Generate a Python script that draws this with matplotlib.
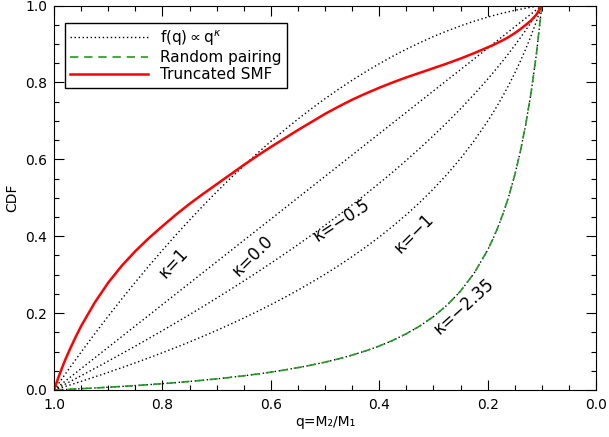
import matplotlib
matplotlib.use('Agg')
import matplotlib.pyplot as plt
from matplotlib.ticker import MultipleLocator

plt.rcParams['font.family'] = ['DejaVu Sans']
plt.rcParams['mathtext.fontset'] = 'dejavusans'

# mass ratio grid (finer near the q=0.1 cut-off)
q = [1.0, 0.975, 0.95, 0.925, 0.9, 0.875, 0.85, 0.825, 0.8, 0.775, 0.75,
     0.725, 0.7, 0.675, 0.65, 0.625, 0.6, 0.575, 0.55, 0.525, 0.5, 0.475,
     0.45, 0.425, 0.4, 0.375, 0.35, 0.325, 0.3, 0.275, 0.25, 0.225, 0.2,
     0.19, 0.18, 0.17, 0.16, 0.15, 0.14, 0.13, 0.12, 0.11, 0.1]

cdf_k1 = [0.0, 0.0499, 0.0985, 0.1458, 0.1919, 0.2367, 0.2803, 0.3226,
          0.3636, 0.4034, 0.4419, 0.4792, 0.5152, 0.5499, 0.5833, 0.6155,
          0.6465, 0.6761, 0.7045, 0.7317, 0.7576, 0.7822, 0.8056, 0.8277,
          0.8485, 0.8681, 0.8864, 0.9034, 0.9192, 0.9337, 0.9470, 0.9590,
          0.9697, 0.9736, 0.9774, 0.9809, 0.9842, 0.9874, 0.9903, 0.9930,
          0.9956, 0.9979, 1.0]
cdf_k0 = [0.0, 0.0278, 0.0556, 0.0833, 0.1111, 0.1389, 0.1667, 0.1944,
          0.2222, 0.2500, 0.2778, 0.3056, 0.3333, 0.3611, 0.3889, 0.4167,
          0.4444, 0.4722, 0.5000, 0.5278, 0.5556, 0.5833, 0.6111, 0.6389,
          0.6667, 0.6944, 0.7222, 0.7500, 0.7778, 0.8056, 0.8333, 0.8611,
          0.8889, 0.9000, 0.9111, 0.9222, 0.9333, 0.9444, 0.9556, 0.9667,
          0.9778, 0.9889, 1.0]
cdf_km05 = [0.0, 0.0184, 0.0370, 0.0559, 0.0751, 0.0945, 0.1141, 0.1341,
            0.1544, 0.1750, 0.1959, 0.2172, 0.2389, 0.2609, 0.2834, 0.3063,
            0.3296, 0.3535, 0.3779, 0.4028, 0.4283, 0.4545, 0.4814, 0.5091,
            0.5375, 0.5669, 0.5973, 0.6287, 0.6615, 0.6955, 0.7312, 0.7688,
            0.8084, 0.8250, 0.8420, 0.8595, 0.8775, 0.8961, 0.9153, 0.9352,
            0.9559, 0.9774, 1.0]
cdf_km1 = [0.0, 0.0110, 0.0223, 0.0339, 0.0458, 0.0580, 0.0706, 0.0835,
           0.0969, 0.1107, 0.1249, 0.1397, 0.1549, 0.1707, 0.1871, 0.2041,
           0.2218, 0.2403, 0.2596, 0.2798, 0.3010, 0.3233, 0.3468, 0.3716,
           0.3979, 0.4260, 0.4559, 0.4881, 0.5229, 0.5607, 0.6021, 0.6478,
           0.6990, 0.7212, 0.7447, 0.7696, 0.7959, 0.8239, 0.8539, 0.8861,
           0.9208, 0.9586, 1.0]
cdf_km235 = [0.0, 0.0016, 0.0034, 0.0052, 0.0072, 0.0092, 0.0115, 0.0139,
             0.0164, 0.0192, 0.0222, 0.0254, 0.0289, 0.0327, 0.0369, 0.0414,
             0.0464, 0.0519, 0.0580, 0.0648, 0.0724, 0.0810, 0.0907, 0.1017,
             0.1143, 0.1290, 0.1462, 0.1665, 0.1908, 0.2204, 0.2571, 0.3035,
             0.3639, 0.3933, 0.4266, 0.4646, 0.5082, 0.5588, 0.6179, 0.6878,
             0.7716, 0.8736, 1.0]
# random pairing follows the same steep slope
cdf_random = cdf_km235

q_smf = [1.0, 0.99, 0.98, 0.97, 0.96, 0.95, 0.925, 0.9, 0.875, 0.85, 0.825,
         0.8, 0.775, 0.75, 0.725, 0.7, 0.675, 0.65, 0.625, 0.6, 0.575, 0.55,
         0.525, 0.5, 0.475, 0.45, 0.425, 0.4, 0.375, 0.35, 0.325, 0.3, 0.275,
         0.25, 0.225, 0.2, 0.19, 0.18, 0.17, 0.16, 0.15, 0.14, 0.13, 0.12,
         0.11, 0.1]
cdf_smf = [0.0, 0.040, 0.076, 0.108, 0.138, 0.166, 0.227, 0.279, 0.323,
           0.361, 0.395, 0.426, 0.456, 0.484, 0.510, 0.535, 0.560, 0.585,
           0.609, 0.632, 0.654, 0.676, 0.697, 0.718, 0.737, 0.755, 0.771,
           0.786, 0.800, 0.813, 0.825, 0.837, 0.849, 0.862, 0.876, 0.891,
           0.897, 0.904, 0.911, 0.919, 0.928, 0.938, 0.949, 0.961, 0.976,
           1.0]

labels = ['κ=1', 'κ=0.0', 'κ=−0.5', 'κ=−1', 'κ=−2.35']
label_q = [0.779, 0.634, 0.469, 0.336, 0.244]
label_y = [0.331, 0.349, 0.442, 0.407, 0.217]
label_rot = [47, 45, 33, 45, 42]

dot = (0, (1, 1.9))
green = '#229922'

fig = plt.figure(figsize=(6.09, 4.37), dpi=100)
ax = fig.add_axes([0.0887, 0.1076, 0.8900, 0.8798])

for i, c in enumerate([cdf_k1, cdf_k0, cdf_km05, cdf_km1, cdf_km235]):
    ax.plot(q, c, color='black', lw=1.0, linestyle=dot,
            label='f(q)$\\propto$q$^{\\kappa}$' if i == 0 else None)
ax.plot(q, cdf_random, color=green, lw=1.2, linestyle=(0, (5, 3.5)),
        label='Random pairing')
ax.plot(q_smf, cdf_smf, color='red', lw=1.8, label='Truncated SMF')

for t, x, y, r in zip(labels, label_q, label_y, label_rot):
    ax.text(x, y, t, fontsize=12, rotation=r, ha='center', va='center',
            rotation_mode='anchor')

ax.set_xlim(1.0, 0.0)
ax.set_ylim(0.0, 1.0)
ax.xaxis.set_major_locator(MultipleLocator(0.2))
ax.xaxis.set_minor_locator(MultipleLocator(0.05))
ax.yaxis.set_major_locator(MultipleLocator(0.2))
ax.yaxis.set_minor_locator(MultipleLocator(0.05))
ax.xaxis.set_major_formatter(plt.FormatStrFormatter('%.1f'))
ax.yaxis.set_major_formatter(plt.FormatStrFormatter('%.1f'))
ax.tick_params(which='both', direction='in', top=True, right=True,
               labelsize=10, width=0.8)
ax.tick_params(which='major', length=7)
ax.tick_params(which='minor', length=3.5)
ax.tick_params(axis='x', pad=6)
ax.tick_params(axis='y', pad=5)

ax.set_xlabel('q=M₂/M₁', fontsize=10, labelpad=2)
ax.set_ylabel('CDF', fontsize=10, labelpad=4)

leg = ax.legend(loc='upper left', bbox_to_anchor=(0.02, 0.955),
                borderaxespad=0, fancybox=False, fontsize=11,
                handlelength=5.1, handletextpad=0.8, labelspacing=0.15,
                borderpad=0.35)
leg.get_frame().set_edgecolor('black')
leg.get_frame().set_linewidth(1.0)
leg.get_frame().set_alpha(1.0)

fig.savefig('out.png', dpi=100)
